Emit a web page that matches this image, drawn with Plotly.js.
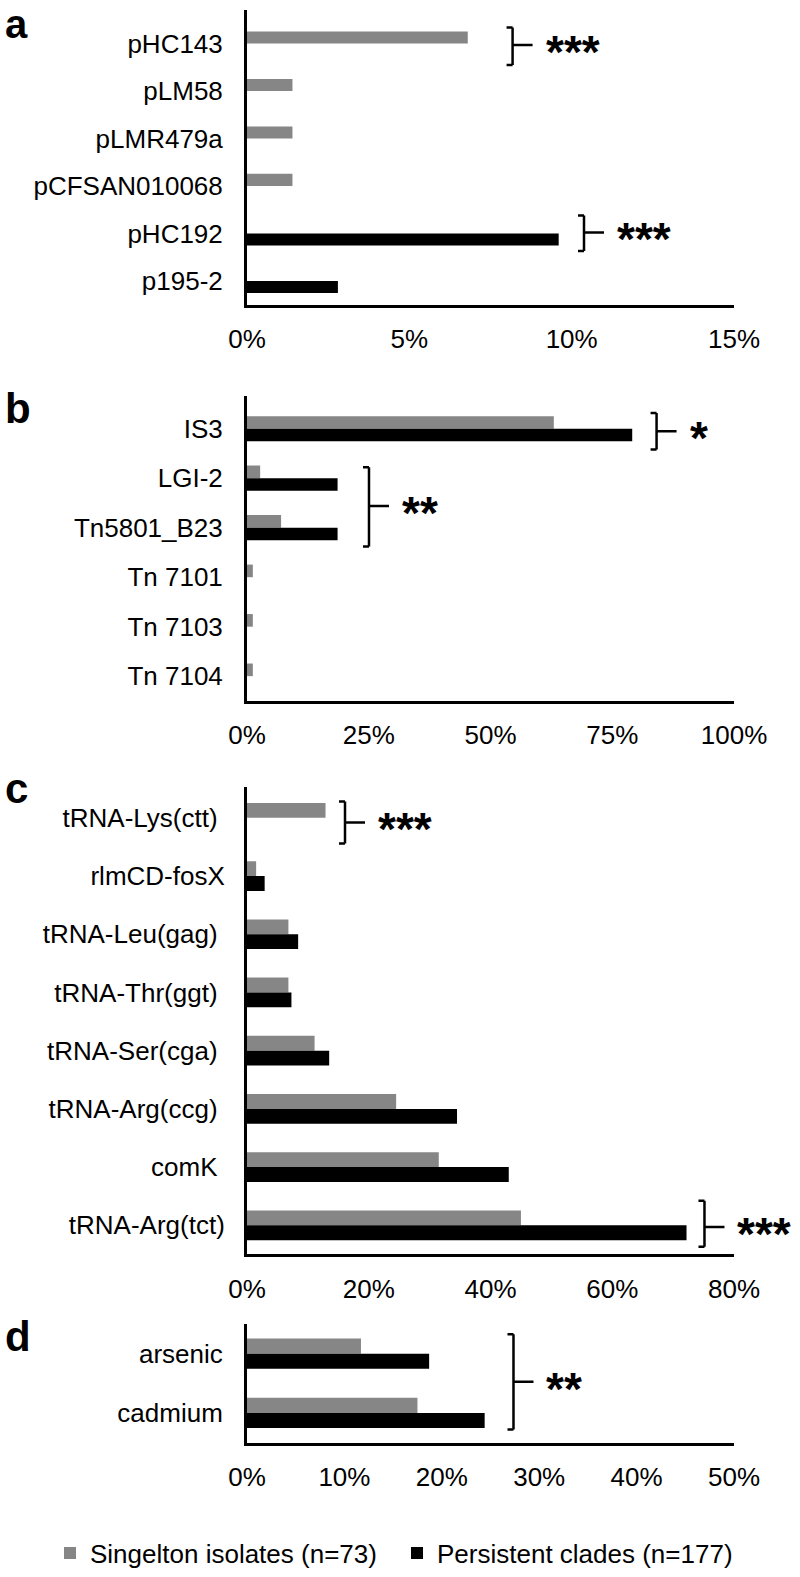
<!DOCTYPE html>
<html>
<head>
<meta charset="utf-8">
<script src="https://cdn.plot.ly/plotly-3.0.1.min.js"></script>
<style>html,body{margin:0;padding:0;background:#fff;}#chart{width:800px;height:1577px;}</style>
</head>
<body>
<div id="chart"></div>
<script>
// ---------- data ----------
const seriesNames = ['Singelton isolates (n=73)', 'Persistent clades (n=177)'];

const catsA = ['pHC143', 'pLM58', 'pLMR479a', 'pCFSAN010068', 'pHC192', 'p195-2'];
const singA = [6.8, 1.4, 1.4, 1.4, 0, 0];
const persA = [0, 0, 0, 0, 9.6, 2.8];
const ticksA = [0, 5, 10, 15];

const catsB = ['IS3', 'LGI-2', 'Tn5801_B23', 'Tn 7101', 'Tn 7103', 'Tn 7104'];
const singB = [63.0, 2.7, 7.0, 1.2, 1.2, 1.2];
const persB = [79.1, 18.6, 18.6, 0, 0, 0];
const ticksB = [0, 25, 50, 75, 100];

const catsC = ['tRNA-Lys(ctt)', 'rlmCD-fosX', 'tRNA-Leu(gag)', 'tRNA-Thr(ggt)', 'tRNA-Ser(cga)', 'tRNA-Arg(ccg)', 'comK', 'tRNA-Arg(tct)'];
const singC = [12.9, 1.5, 6.8, 6.8, 11.1, 24.5, 31.5, 45.0];
const persC = [0, 2.9, 8.4, 7.3, 13.5, 34.5, 43.0, 72.2];
const ticksC = [0, 20, 40, 60, 80];

const catsD = ['arsenic', 'cadmium'];
const singD = [11.7, 17.5];
const persD = [18.7, 24.4];
const ticksD = [0, 10, 20, 30, 40, 50];

const panelLetters = ['a', 'b', 'c', 'd'];
// significance labels per panel
const sigLabels = [['***', '***'], ['*', '**'], ['***', '***'], ['**']];

// ---------- layout helpers ----------
const W = 800, H = 1577;
const GRAY = '#868686', BLACK = '#000000';
const FONT = 'Liberation Sans, Arial, Helvetica, sans-serif';
const py = p => 1 - p / H;
const xDom = [247 / W, 734 / W];
const plotW = 734 - 247;
const NB = '\u00a0';

// label padding of panel c (reference leaves a wider gap for most of its labels)
const padC = [NB, '', NB, NB, NB, NB, NB, ''];

const panels = [
  {cats: catsA, s: singA, p: persA, ticks: ticksA, top: 10, bottom: 306, std: 16},
  {cats: catsB, s: singB, p: persB, ticks: ticksB, top: 398, bottom: 704, std: 16},
  {cats: catsC, s: singC, p: persC, ticks: ticksC, top: 791, bottom: 1260, std: 14, pad: padC},
  {cats: catsD, s: singD, p: persD, ticks: ticksD, top: 1330, bottom: 1449, std: 16}
];

// letter annotations: [paper-y px, anchor]
const letterPos = [[0, 'top'], [410, 'middle'], [792, 'middle'], [1342, 'middle']];

// bracket placement: [x (axis units), yTop (category idx), yBottom, yMid]
const brackets = [
  [[8.18, -0.34, 0.45, 0.03], [10.38, 3.62, 4.37, 3.98]],
  [[84.1, -0.32, 0.42, 0.05], [25.05, 0.78, 2.38, 1.56]],
  [[16.1, -0.28, 0.44, 0.08], [75.15, 6.58, 7.37, 7.03]],
  [[27.36, -0.33, 1.28, 0.475]]
];

const data = [];
const layout = {
  width: W, height: H,
  margin: {l: 0, r: 0, t: 0, b: 0},
  paper_bgcolor: '#fff', plot_bgcolor: '#fff',
  font: {family: FONT, size: 26, color: '#000'},
  barmode: 'group', bargap: 0.49, bargroupgap: 0,
  showlegend: true,
  legend: {orientation: 'h', x: 50 / W, xanchor: 'left', y: py(1560), yanchor: 'middle',
           font: {family: FONT, size: 26, color: '#000'}, traceorder: 'normal', itemclick: false,
           entrywidth: 302, entrywidthmode: 'pixels'},
  shapes: [], annotations: []
};

panels.forEach((pn, i) => {
  const n = i + 1;
  const xa = 'x' + (n === 1 ? '' : n), ya = 'y' + (n === 1 ? '' : n);
  const xk = 'xaxis' + (n === 1 ? '' : n), yk = 'yaxis' + (n === 1 ? '' : n);
  const xmax = pn.ticks[pn.ticks.length - 1];
  data.push({type: 'bar', orientation: 'h', name: seriesNames[0], y: pn.cats, x: pn.s,
             xaxis: xa, yaxis: ya, marker: {color: GRAY, line: {width: 0}},
             showlegend: i === 0, hoverinfo: 'skip', legendgroup: 's'});
  data.push({type: 'bar', orientation: 'h', name: seriesNames[1], y: pn.cats, x: pn.p,
             xaxis: xa, yaxis: ya, marker: {color: BLACK, line: {width: 0}},
             showlegend: i === 0, hoverinfo: 'skip', legendgroup: 'p'});
  layout[xk] = {domain: xDom, anchor: ya, range: [0, xmax], tickmode: 'array',
                tickvals: pn.ticks, ticktext: pn.ticks.map(v => v + '%'),
                showline: true, linecolor: '#000', linewidth: 3, showgrid: false, zeroline: false,
                ticks: '', ticklabelstandoff: 9, tickfont: {family: FONT, size: 26, color: '#000'},
                fixedrange: true};
  layout[yk] = {domain: [py(pn.bottom), py(pn.top)], anchor: xa, type: 'category',
                categoryorder: 'array', categoryarray: pn.cats, autorange: 'reversed',
                tickmode: 'array', tickvals: pn.cats,
                ticktext: pn.cats.map((c, k) => c + (pn.pad ? pn.pad[k] : '')),
                showline: true, linecolor: '#000', linewidth: 3, showgrid: false, zeroline: false,
                ticks: '', ticklabelstandoff: pn.std, tickfont: {family: FONT, size: 26, color: '#000'},
                fixedrange: true};
  // panel letter
  const lp = letterPos[i];
  layout.annotations.push({xref: 'paper', yref: 'paper', x: 3 / W, y: py(lp[0]),
    xanchor: 'left', yanchor: lp[1], showarrow: false, text: '<b>' + panelLetters[i] + '</b>',
    font: {family: FONT, size: i === 0 ? 40 : 42, color: '#000'}});
  // significance brackets
  const unitPerPx = xmax / plotW;
  const cap = 6 * unitPerPx, tick = 20 * unitPerPx;
  const ln = {color: '#000', width: 2.5};
  brackets[i].forEach((b, k) => {
    const [bx, y0, y1, ym] = b;
    layout.shapes.push({type: 'line', xref: xa, yref: ya, x0: bx, x1: bx, y0: y0, y1: y1, line: ln});
    layout.shapes.push({type: 'line', xref: xa, yref: ya, x0: bx - cap, x1: bx, y0: y0, y1: y0, line: ln});
    layout.shapes.push({type: 'line', xref: xa, yref: ya, x0: bx - cap, x1: bx, y0: y1, y1: y1, line: ln});
    layout.shapes.push({type: 'line', xref: xa, yref: ya, x0: bx, x1: bx + tick, y0: ym, y1: ym, line: ln});
    layout.annotations.push({xref: xa, yref: ya, x: bx, y: ym, xanchor: 'left', yanchor: 'middle',
      xshift: 31, yshift: -7, showarrow: false, text: '<b>' + sigLabels[i][k] + '</b>',
      font: {family: FONT, size: 46, color: '#000'}});
  });
});

Plotly.newPlot('chart', data, layout, {staticPlot: true, displayModeBar: false});
</script>
</body>
</html>
